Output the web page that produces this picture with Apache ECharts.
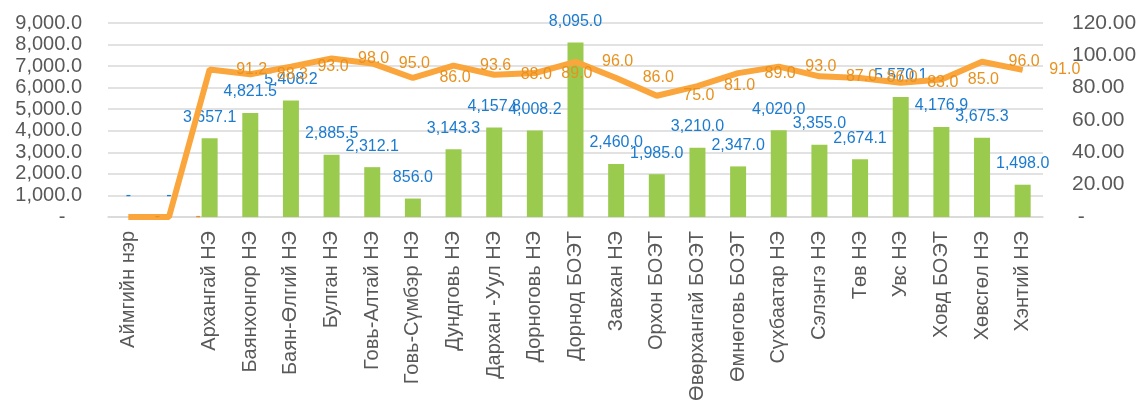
<!DOCTYPE html>
<html>
<head>
<meta charset="utf-8">
<script src="https://cdn.jsdelivr.net/npm/echarts@6/dist/echarts.min.js"></script>
<style>
  html, body { margin: 0; padding: 0; background: #fff; }
  #chart { width: 1144px; height: 412px; }
</style>
</head>
<body>
<div id="chart"></div>
<script>
var categories = ['Аймгийн нэр', '', 'Архангай НЭ', 'Баянхонгор НЭ', 'Баян-Өлгий НЭ', 'Булган НЭ',
    'Говь-Алтай НЭ', 'Говь-Сүмбэр НЭ', 'Дундговь НЭ', 'Дархан -Уул НЭ', 'Дорноговь НЭ', 'Дорнод БОЭТ',
    'Завхан НЭ', 'Орхон БОЭТ', 'Өвөрхангай БОЭТ', 'Өмнөговь БОЭТ', 'Сүхбаатар НЭ', 'Сэлэнгэ НЭ',
    'Төв НЭ', 'Увс НЭ', 'Ховд БОЭТ', 'Хөвсгөл НЭ', 'Хэнтий НЭ'];
var barValues = [0, 0, 3657.1, 4821.5, 5408.2, 2885.5, 2312.1, 856.0, 3143.3, 4157.8, 4008.2, 8095.0,
    2460.0, 1985.0, 3210.0, 2347.0, 4020.0, 3355.0, 2674.1, 5570.1, 4176.9, 3675.3, 1498.0];
var lineValues = [0, 0, 91.2, 88.3, 93.0, 98.0, 95.0, 86.0, 93.6, 88.0, 89.0, 96.0,
    86.0, 75.0, 81.0, 89.0, 93.0, 87.0, 86.0, 83.0, 85.0, 96.0, 91.0];

var font = 'Liberation Sans, Arial, sans-serif';

// 0 shows as "-" like the spreadsheet format
function fmt1(v) {
    if (v === 0) return '-';
    return v.toLocaleString('en-US', { minimumFractionDigits: 1, maximumFractionDigits: 1 });
}

var myChart = echarts.init(document.getElementById('chart'));
var option = {
    animation: false,
    grid: { left: 108, right: 101, top: 23, bottom: 195 },
    xAxis: {
        type: 'category',
        data: categories,
        boundaryGap: true,
        axisTick: { show: false },
        axisLine: { lineStyle: { color: '#d9d9d9', width: 1.5 } },
        axisLabel: {
            interval: 0, rotate: 90, margin: 14,
            fontSize: 20, color: '#595959', fontFamily: font
        }
    },
    yAxis: [{
        type: 'value', min: 0, max: 9000, interval: 1000,
        axisLine: { show: false }, axisTick: { show: false },
        splitLine: { lineStyle: { color: '#d9d9d9', width: 1.5 } },
        axisLabel: {
            margin: 26, fontSize: 20, color: '#595959', fontFamily: font,
            formatter: function (v) { return v === 0 ? '-   ' : fmt1(v); }
        }
    }, {
        type: 'value', min: 0, max: 120, interval: 20,
        axisLine: { show: false }, axisTick: { show: false },
        splitLine: { show: false },
        axisLabel: {
            margin: 29, fontSize: 21, color: '#595959', fontFamily: font,
            formatter: function (v) { return v === 0 ? ' -' : v.toFixed(2); }
        }
    }],
    series: [{
        type: 'bar',
        data: barValues,
        barWidth: 16,
        itemStyle: { color: '#9BCB4E' },
        label: {
            show: true, position: 'top', distance: 13,
            fontSize: 16, color: '#1B7BCF', fontFamily: font,
            formatter: function (p) { return fmt1(p.value); }
        }
    }, {
        type: 'line',
        yAxisIndex: 1,
        data: lineValues,
        symbol: 'circle',
        symbolSize: 1,
        showSymbol: true,
        itemStyle: { color: '#FBA63C' },
        lineStyle: { color: '#FBA63C', width: 6 },
        label: {
            show: true, position: 'right', distance: 26,
            fontSize: 16, color: '#E8911E', fontFamily: font,
            formatter: function (p) { return fmt1(p.value); }
        }
    }]
};
myChart.setOption(option);
</script>
</body>
</html>
